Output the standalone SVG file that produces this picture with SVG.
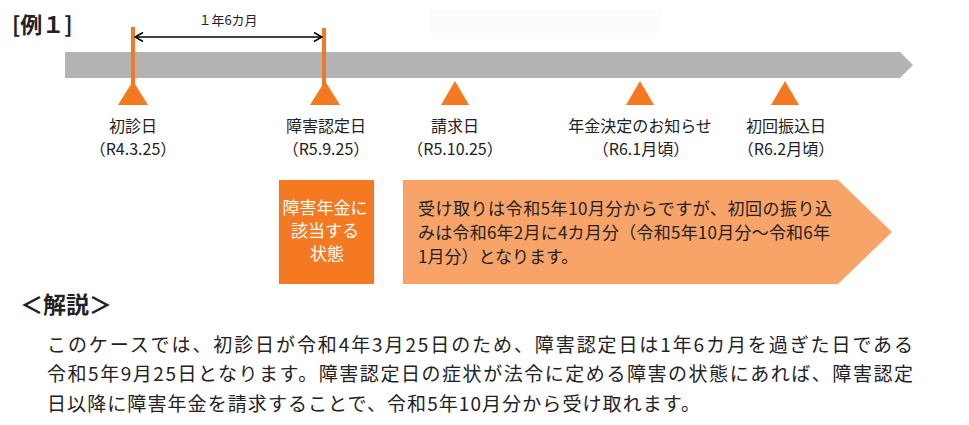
<svg xmlns="http://www.w3.org/2000/svg" width="969" height="425" viewBox="0 0 969 425">
<style>
.t{font-family:"Noto Sans CJK JP","Noto Sans",sans-serif;fill:#222}
.lbl{font-size:16px;text-anchor:middle}
.tri{fill:#F47920}
.vl{stroke:#F47920;stroke-width:4}
.pan{font-size:17px}
.body{font-size:19px}
</style>
<defs>
<marker id="ah" viewBox="0 0 10 10" refX="9" refY="5" markerWidth="10" markerHeight="10" markerUnits="userSpaceOnUse" orient="auto-start-reverse">
<polyline points="1,0.5 9,5 1,9.5" fill="none" stroke="#000" stroke-width="1.6"/>
</marker>
</defs>
<rect width="969" height="425" fill="#fff"/>
<rect x="430" y="10" width="232" height="23" fill="#fafcfe"/>
<text class="t" x="12" y="33" font-size="22" font-weight="bold">[例１]</text>
<g id="timeline">
<polygon points="65,52 900,52 913,65 900,78 65,78" fill="#B3B3B3"/>
</g>
<g id="connectors">
<line class="vl" x1="133" y1="27" x2="133" y2="88"/>
<line class="vl" x1="324" y1="28" x2="324" y2="88"/>
<line x1="135" y1="37" x2="322" y2="37" stroke="#000" stroke-width="1.6" marker-start="url(#ah)" marker-end="url(#ah)"/>
<text class="t" x="228" y="25" font-size="13" text-anchor="middle">１年6カ月</text>
</g>
<g id="n1">
<polygon class="tri" points="133,81 148,105 118,105"/>
<text class="t lbl" x="133" y="132">初診日</text>
<text class="t lbl" x="133" y="155">（R4.3.25）</text>
</g>
<g id="n2">
<polygon class="tri" points="325,81 340,105 310,105"/>
<text class="t lbl" x="326" y="132">障害認定日</text>
<text class="t lbl" x="326" y="155">（R5.9.25）</text>
</g>
<g id="n3">
<polygon class="tri" points="455,81 469,105 441,105"/>
<text class="t lbl" x="455" y="132">請求日</text>
<text class="t lbl" x="455" y="155">（R5.10.25）</text>
</g>
<g id="n4">
<polygon class="tri" points="640,81 654,105 626,105"/>
<text class="t lbl" x="640" y="132">年金決定のお知らせ</text>
<text class="t lbl" x="641" y="155">（R6.1月頃）</text>
</g>
<g id="n5">
<polygon class="tri" points="785,81 799,105 771,105"/>
<text class="t lbl" x="786" y="132">初回振込日</text>
<text class="t lbl" x="786" y="155">（R6.2月頃）</text>
</g>
<g id="state">
<rect x="279" y="180" width="95" height="104" fill="#F47920"/>
<text class="t" font-size="17" text-anchor="middle" style="fill:#fff">
<tspan x="327" y="214">障害年金に</tspan>
<tspan x="327" y="237">該当する</tspan>
<tspan x="327" y="260">状態</tspan>
</text>
</g>
<g id="receipt">
<polygon points="403,180 838,180 892,232 838,284 403,284" fill="#F8A368"/>
<text class="t pan" x="418" y="215" textLength="414" lengthAdjust="spacing">受け取りは令和5年10月分からですが、初回の振り込</text>
<text class="t pan" x="418" y="239" textLength="412" lengthAdjust="spacing">みは令和6年2月に4カ月分（令和5年10月分〜令和6年</text>
<text class="t pan" x="418" y="263">1月分）となります。</text>
</g>
<g id="explain">
<text class="t" x="20" y="313" font-size="23" font-weight="bold">＜解説＞</text>
<text class="t body" x="47" y="352" textLength="866" lengthAdjust="spacing">このケースでは、初診日が令和4年3月25日のため、障害認定日は1年6カ月を過ぎた日である</text>
<text class="t body" x="47" y="381" textLength="866" lengthAdjust="spacing">令和5年9月25日となります。障害認定日の症状が法令に定める障害の状態にあれば、障害認定</text>
<text class="t body" x="47" y="411" textLength="653" lengthAdjust="spacing">日以降に障害年金を請求することで、令和5年10月分から受け取れます。</text>
</g>
</svg>
